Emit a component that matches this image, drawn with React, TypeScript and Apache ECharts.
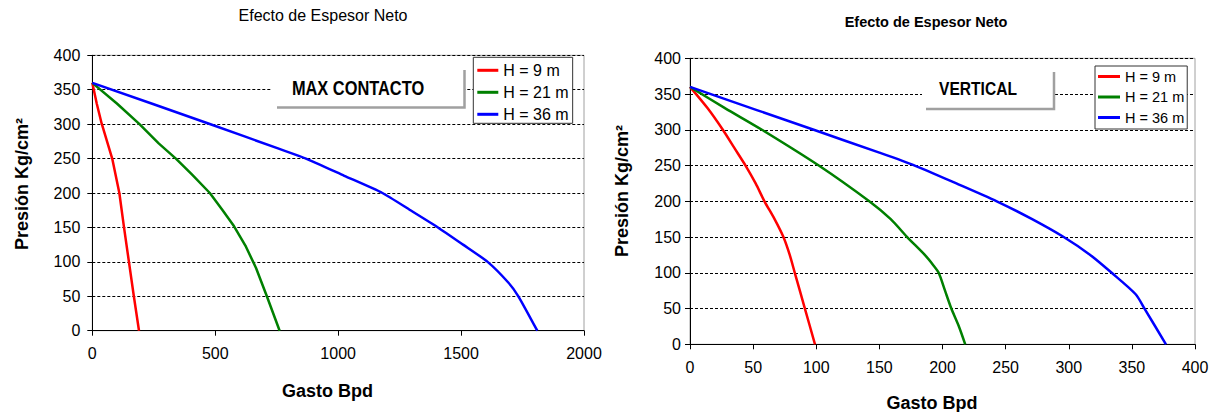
import React, { useEffect, useRef } from "react";
import * as echarts from "echarts";

// ---- Data (Gasto Bpd, Presión Kg/cm²) ----
const seriesNames = ["H = 9 m", "H = 21 m", "H = 36 m"];
const seriesColors = ["#ff0000", "#008000", "#0000ff"];

// MAX CONTACTO chart
const maxContacto9m: [number, number][] = [
  [0, 360], [18, 330], [38, 301], [81, 250], [110, 200], [129, 150], [149, 100], [169, 50], [190, 0],
];
const maxContacto21m: [number, number][] = [
  [0, 360], [100, 330], [192, 300], [270, 272], [340, 250], [405, 227], [478, 200], [530, 175],
  [576, 152], [625, 122], [666, 91], [710, 50], [762, 0],
];
const maxContacto36m: [number, number][] = [
  [0, 360], [472, 301], [761, 264], [869, 250], [1025, 225], [1180, 200], [1294, 175], [1406, 150],
  [1508, 125], [1608, 100], [1692, 70], [1733, 50], [1810, 0],
];

// VERTICAL chart
const vertical9m: [number, number][] = [
  [0, 360], [14, 330], [26, 300], [35, 275], [44, 250], [52, 225], [59, 200], [67, 175], [74, 150],
  [79, 125], [83, 100], [91, 50], [99, 0],
];
const vertical21m: [number, number][] = [
  [0, 360], [28, 330], [57, 300], [102, 250], [142, 200], [159, 175], [172, 150], [186, 125],
  [193, 110], [197, 100], [202, 75], [207, 50], [213, 25], [218, 0],
];
const vertical36m: [number, number][] = [
  [0, 360], [98, 300], [150, 268], [178, 250], [211, 225], [243, 200], [271, 175], [296, 150],
  [317, 125], [334, 100], [353, 70], [360, 50], [377, 0],
];

const titleText = "Efecto de Espesor Neto";
const yName = "Presión Kg/cm²";
const xName = "Gasto Bpd";
const leftBoxLabel = "MAX CONTACTO";
const rightBoxLabel = "VERTICAL";

const FONT = "'Liberation Sans', Arial, sans-serif";
const NARROW = "'Liberation Sans Narrow', 'Liberation Sans', sans-serif";

function makeAxes(idx: number, xMax: number, xInterval: number, yMargin: number, fs: number) {
  const x = {
    type: "value",
    gridIndex: idx,
    min: 0,
    max: xMax,
    interval: xInterval,
    axisLine: { show: true, lineStyle: { color: "#000", width: 1 } },
    axisTick: { show: true, inside: false, length: 5, lineStyle: { color: "#000" } },
    axisLabel: { color: "#000", fontSize: fs, fontFamily: FONT, margin: 15, formatter: (v: number) => String(v) },
    splitLine: { show: false },
  };
  const y = {
    type: "value",
    gridIndex: idx,
    min: 0,
    max: 400,
    interval: 50,
    axisLine: { show: true, lineStyle: { color: "#000", width: 1 } },
    axisTick: { show: true, inside: false, length: 5, lineStyle: { color: "#000" } },
    axisLabel: { color: "#000", fontSize: fs, fontFamily: FONT, margin: yMargin, formatter: (v: number) => String(v) },
    splitLine: { show: true, lineStyle: { color: "#000", width: 1, type: [3, 2] } },
  };
  return { x, y };
}

function txt(
  x: number,
  y: number,
  text: string,
  fontSize: number,
  bold: boolean,
  family = FONT,
  rotation = 0,
  scaleX = 1
) {
  return {
    type: "text",
    x,
    y,
    rotation,
    scaleX,
    z: 10,
    style: {
      text,
      fill: "#000",
      fontSize,
      fontWeight: bold ? "bold" : "normal",
      fontFamily: family,
      textAlign: "center",
      textVerticalAlign: "middle",
      align: "center",
      verticalAlign: "middle",
    },
  };
}

// smoothing per chart / series (left green has visible kinks in the reference)
const smoothing = [
  [0, 0, 0.2],
  [0.25, 0.25, 0.25],
];

export default function App() {
  const ref = useRef<HTMLDivElement>(null);

  useEffect(() => {
    if (!ref.current) return;
    const chart = echarts.init(ref.current, undefined, { renderer: "svg" });

    const a0 = makeAxes(0, 2000, 500, 12, 16);
    const a1 = makeAxes(1, 400, 50, 9, 16);

    const datasets = [
      [maxContacto9m, maxContacto21m, maxContacto36m],
      [vertical9m, vertical21m, vertical36m],
    ];
    const series: any[] = [];
    datasets.forEach((group, gi) => {
      group.forEach((d, si) => {
        const s = smoothing[gi][si];
        series.push({
          type: "line",
          name: seriesNames[si],
          xAxisIndex: gi,
          yAxisIndex: gi,
          data: d,
          showSymbol: false,
          symbol: "none",
          smooth: s > 0 ? s : false,
          lineStyle: { color: seriesColors[si], width: 2.5 },
          itemStyle: { color: seriesColors[si] },
          z: 3,
        });
      });
    });

    const option: any = {
      animation: false,
      backgroundColor: "#fff",
      grid: [
        { left: 92.3, top: 55.3, width: 491.7, height: 275.4, show: true, borderColor: "#a0a0a0", borderWidth: 1, backgroundColor: "transparent" },
        { left: 690, top: 58.3, width: 505, height: 286, show: true, borderColor: "#a0a0a0", borderWidth: 1, backgroundColor: "transparent" },
      ],
      xAxis: [a0.x, a1.x],
      yAxis: [a0.y, a1.y],
      legend: [
        {
          data: seriesNames,
          orient: "vertical",
          left: 473.3,
          top: 57.3,
          icon: "rect",
          itemWidth: 21,
          itemHeight: 3,
          itemGap: 6,
          padding: [5, 4, 1, 4],
          borderColor: "#333",
          borderWidth: 1,
          backgroundColor: "#fff",
          selectedMode: false,
          textStyle: { color: "#000", fontSize: 16, fontFamily: FONT },
          z: 10,
        },
        {
          data: seriesNames,
          orient: "vertical",
          left: 1095,
          top: 66,
          icon: "rect",
          itemWidth: 22,
          itemHeight: 3,
          itemGap: 5.5,
          padding: [3, 3, 4, 3],
          borderColor: "#333",
          borderWidth: 1,
          backgroundColor: "#fff",
          selectedMode: false,
          textStyle: { color: "#000", fontSize: 14.5, fontFamily: FONT },
          z: 10,
        },
      ],
      graphic: [
        // titles
        txt(323, 15, titleText, 16, false),
        txt(926, 21.7, titleText, 14.5, true),
        // axis names
        txt(327.5, 391, xName, 18, true),
        txt(932, 403, xName, 18, true),
        txt(21.7, 184, yName, 18, true, FONT, Math.PI / 2),
        txt(621.7, 191, yName, 18, true, FONT, Math.PI / 2),
        // label boxes
        { type: "rect", z: 8, shape: { x: 272, y: 68, width: 193, height: 38 }, style: { fill: "#fff" } },
        { type: "polyline", z: 9, shape: { points: [[277, 107.5], [464.5, 107.5], [464.5, 70]] }, style: { stroke: "#a0a0a0", lineWidth: 2.5, fill: "none" } },
        txt(358, 87.5, leftBoxLabel, 20, true, NARROW, 0, 0.82),
        { type: "rect", z: 8, shape: { x: 922, y: 72, width: 133, height: 36 }, style: { fill: "#fff" } },
        { type: "polyline", z: 9, shape: { points: [[926, 109], [1054, 109], [1054, 72]] }, style: { stroke: "#a0a0a0", lineWidth: 2.5, fill: "none" } },
        txt(978, 88.5, rightBoxLabel, 19, true, NARROW, 0, 0.82),
      ],
      series,
    };

    chart.setOption(option);
    return () => chart.dispose();
  }, []);

  return (
    <div
      ref={ref}
      style={{ position: "absolute", left: 0, top: 0, width: 1218, height: 412, background: "#fff" }}
    />
  );
}
